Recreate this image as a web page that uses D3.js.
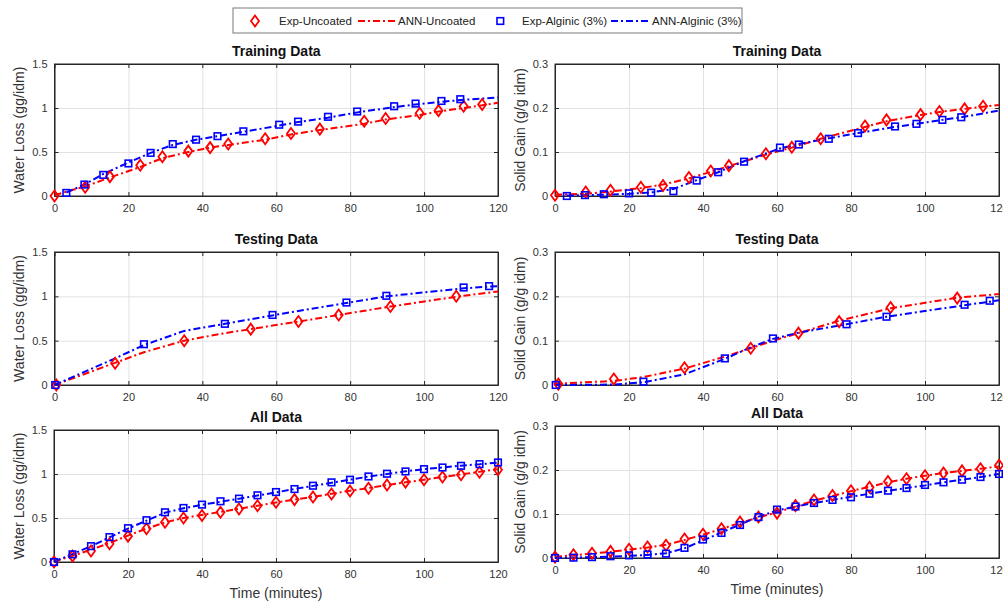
<!DOCTYPE html>
<html lang="en">
<head>
<meta charset="UTF-8">
<title>Water Loss / Solid Gain - Exp vs ANN</title>
<script src="https://d3js.org/d3.v7.min.js"></script>
<style>
    body { margin: 0; background: #fff; }
    svg { display: block; font-family: "Liberation Sans", Arial, sans-serif; }
    .tick text { fill: #333; font-size: 11px; }
    .grid line { stroke: #e2e2e2; }
    .grid path { display: none; }
</style>
</head>
<body>
<svg width="1003" height="603"></svg>
<script>
// ---- tick labels ----
const xTicks = [0, 20, 40, 60, 80, 100, 120];
const wlTicks = [0, 0.5, 1, 1.5];
const sgTicks = [0, 0.1, 0.2, 0.3];

// ---- Training data: water loss ----
const trUncTime = [0, 8.3, 15, 23.2, 29.2, 36.2, 42.1, 47, 57, 64, 71.8, 83.8, 89.6, 98.8, 103.9, 110.7, 115.7];
const trUncWL = [0, 0.10, 0.22, 0.35, 0.445, 0.51, 0.55, 0.59, 0.65, 0.71, 0.76, 0.85, 0.88, 0.94, 0.97, 1.02, 1.04];
const trUncAnnTime = [0, 8.3, 15, 23.2, 29.2, 36.2, 42.1, 47, 57, 64, 71.8, 83.8, 89.6, 98.8, 103.9, 110.7, 115.7, 120];
const trUncAnnWL = [0.01, 0.11, 0.21, 0.33, 0.43, 0.50, 0.55, 0.58, 0.64, 0.70, 0.75, 0.82, 0.87, 0.92, 0.96, 1.0, 1.03, 1.06];
const trAlgTime = [3.2, 8.1, 13.2, 20, 26, 32, 38.3, 44.1, 51.1, 60.8, 65.9, 74, 81.9, 91.9, 97.7, 104.7, 109.8];
const trAlgWL = [0.035, 0.13, 0.24, 0.37, 0.49, 0.59, 0.64, 0.68, 0.735, 0.81, 0.845, 0.90, 0.96, 1.02, 1.05, 1.08, 1.10];
const trAlgAnnTime = [3.2, 8.1, 13.2, 20, 26, 32, 38.3, 44.1, 51.1, 60.8, 65.9, 74, 81.9, 91.9, 97.7, 104.7, 109.8, 120];
const trAlgAnnWL = [0.04, 0.13, 0.25, 0.38, 0.49, 0.58, 0.64, 0.68, 0.73, 0.80, 0.84, 0.89, 0.95, 1.01, 1.04, 1.07, 1.09, 1.12];

// ---- Training data: solid gain ----
const trUncSG = [0.0015, 0.009, 0.013, 0.02, 0.024, 0.042, 0.057, 0.069, 0.096, 0.111, 0.130, 0.159, 0.173, 0.185, 0.192, 0.198, 0.204];
const trUncAnnSG = [0.003, 0.005, 0.01, 0.018, 0.026, 0.04, 0.055, 0.068, 0.094, 0.11, 0.13, 0.157, 0.17, 0.184, 0.191, 0.198, 0.203, 0.207];
const trAlgSG = [0, 0.002, 0.004, 0.006, 0.0075, 0.011, 0.035, 0.054, 0.078, 0.110, 0.117, 0.130, 0.143, 0.158, 0.164, 0.173, 0.179];
const trAlgAnnSG = [0.001, 0.002, 0.003, 0.005, 0.008, 0.016, 0.036, 0.054, 0.079, 0.108, 0.118, 0.131, 0.143, 0.157, 0.164, 0.173, 0.179, 0.194];

// ---- Testing data: water loss ----
const teUncTime = [0.5, 16.4, 35.1, 53.1, 66, 76.9, 90.9, 108.7];
const teUncWL = [0, 0.245, 0.50, 0.63, 0.716, 0.79, 0.886, 1.0];
const teUncAnnTime = [0, 16.4, 24.2, 35.1, 46.1, 53.1, 59, 66, 76.9, 90.9, 108.7, 120];
const teUncAnnWL = [0, 0.25, 0.37, 0.50, 0.585, 0.63, 0.67, 0.715, 0.79, 0.885, 0.995, 1.055];
const teAlgTime = [0.2, 24.2, 46.1, 59, 79, 89.8, 110.7, 117.6];
const teAlgWL = [0, 0.46, 0.69, 0.79, 0.93, 1.006, 1.10, 1.115];
const teAlgAnnTime = [0, 16.4, 24.2, 35.1, 46.1, 59, 66, 79, 89.8, 110.7, 117.6, 120];
const teAlgAnnWL = [0, 0.30, 0.45, 0.61, 0.69, 0.785, 0.835, 0.925, 1.0, 1.09, 1.11, 1.115];

// ---- Testing data: solid gain ----
const teUncTimeSG = [0.9, 15.9, 35, 52.9, 65.8, 76.8, 90.7, 108.7];
const teUncSG = [0.002, 0.0135, 0.039, 0.083, 0.117, 0.143, 0.175, 0.196];
const teUncAnnTimeSG = [0, 15.9, 23.9, 35, 45.9, 52.9, 58.9, 65.8, 76.8, 90.7, 108.7, 120];
const teUncAnnSG = [0.003, 0.009, 0.018, 0.037, 0.064, 0.083, 0.100, 0.117, 0.145, 0.173, 0.197, 0.205];
const teAlgTimeSG = [0.2, 23.9, 45.9, 58.9, 78.8, 89.6, 110.7, 117.5];
const teAlgSG = [0, 0.0075, 0.060, 0.105, 0.137, 0.154, 0.181, 0.190];
const teAlgAnnTimeSG = [0, 15.9, 23.9, 35, 45.9, 52.9, 58.9, 65.8, 78.8, 89.6, 110.7, 117.5, 120];
const teAlgAnnSG = [0, 0.001, 0.006, 0.024, 0.059, 0.085, 0.104, 0.118, 0.137, 0.154, 0.180, 0.188, 0.191];

// ---- All data ----
const allTime = [0, 5, 10, 15, 20, 25, 30, 35, 40, 45, 50, 55, 60, 65, 70, 75, 80, 85, 90, 95, 100, 105, 110, 115, 120];
const allUncWL = [0, 0.068, 0.124, 0.207, 0.294, 0.377, 0.452, 0.50, 0.528, 0.565, 0.603, 0.64, 0.678, 0.709, 0.739, 0.773, 0.807, 0.837, 0.874, 0.908, 0.935, 0.965, 0.991, 1.02, 1.048];
const allUncAnnWL = [0.005, 0.07, 0.14, 0.215, 0.30, 0.38, 0.45, 0.50, 0.535, 0.57, 0.605, 0.64, 0.675, 0.71, 0.74, 0.775, 0.81, 0.84, 0.875, 0.905, 0.935, 0.965, 0.995, 1.025, 1.055];
const allAlgWL = [0, 0.087, 0.18, 0.283, 0.384, 0.475, 0.565, 0.614, 0.652, 0.69, 0.72, 0.758, 0.795, 0.829, 0.867, 0.905, 0.935, 0.972, 1.003, 1.029, 1.055, 1.074, 1.093, 1.112, 1.131];
const allAlgAnnWL = [0.005, 0.09, 0.18, 0.28, 0.38, 0.47, 0.56, 0.61, 0.65, 0.685, 0.72, 0.755, 0.79, 0.83, 0.865, 0.9, 0.935, 0.97, 1.0, 1.03, 1.055, 1.075, 1.095, 1.11, 1.13];
const allUncSG = [0.002, 0.0075, 0.011, 0.015, 0.020, 0.025, 0.029, 0.043, 0.054, 0.0665, 0.082, 0.093, 0.102, 0.119, 0.132, 0.142, 0.153, 0.161, 0.174, 0.180, 0.187, 0.193, 0.198, 0.203, 0.211];
const allUncAnnSG = [0.003, 0.006, 0.01, 0.014, 0.019, 0.024, 0.03, 0.041, 0.053, 0.066, 0.08, 0.092, 0.104, 0.117, 0.13, 0.141, 0.152, 0.162, 0.172, 0.18, 0.187, 0.193, 0.198, 0.203, 0.208];
const allAlgSG = [0, 0.0008, 0.002, 0.004, 0.006, 0.008, 0.010, 0.023, 0.042, 0.057, 0.075, 0.093, 0.110, 0.117, 0.125, 0.132, 0.138, 0.146, 0.153, 0.159, 0.166, 0.172, 0.178, 0.184, 0.191];
const allAlgAnnSG = [0, 0.001, 0.002, 0.003, 0.005, 0.007, 0.011, 0.022, 0.04, 0.058, 0.076, 0.094, 0.108, 0.117, 0.125, 0.132, 0.139, 0.146, 0.153, 0.159, 0.165, 0.172, 0.178, 0.184, 0.191];

const red = "#ff0000", blue = "#0000ff";
const dash = "7,3,2,3";
const wlLabel = "Water Loss (gg/idm)";
const sgLabel = "Solid Gain (g/g idm)";

// panel layout (pixel boxes) + which arrays go where
const panels = [
    { title: "Training Data", box: [54.5, 498, 64, 196], yMax: 1.5, yTicks: wlTicks, yLabel: wlLabel, yLabelLen: 127,
      unc: [trUncTime, trUncWL], uncAnn: [trUncAnnTime, trUncAnnWL], alg: [trAlgTime, trAlgWL], algAnn: [trAlgAnnTime, trAlgAnnWL] },
    { title: "Training Data", box: [555, 999, 64, 196], yMax: 0.3, yTicks: sgTicks, yLabel: sgLabel,
      unc: [trUncTime, trUncSG], uncAnn: [trUncAnnTime, trUncAnnSG], alg: [trAlgTime, trAlgSG], algAnn: [trAlgAnnTime, trAlgAnnSG] },
    { title: "Testing Data", box: [54.5, 498, 252, 385], yMax: 1.5, yTicks: wlTicks, yLabel: wlLabel, yLabelLen: 127,
      unc: [teUncTime, teUncWL], uncAnn: [teUncAnnTime, teUncAnnWL], alg: [teAlgTime, teAlgWL], algAnn: [teAlgAnnTime, teAlgAnnWL] },
    { title: "Testing Data", box: [555, 999, 252, 385], yMax: 0.3, yTicks: sgTicks, yLabel: sgLabel,
      unc: [teUncTimeSG, teUncSG], uncAnn: [teUncAnnTimeSG, teUncAnnSG], alg: [teAlgTimeSG, teAlgSG], algAnn: [teAlgAnnTimeSG, teAlgAnnSG] },
    { title: "All Data", box: [54, 498, 430, 562], yMax: 1.5, yTicks: wlTicks, yLabel: wlLabel, yLabelLen: 127, xLabel: true,
      unc: [allTime, allUncWL], uncAnn: [allTime, allUncAnnWL], alg: [allTime, allAlgWL], algAnn: [allTime, allAlgAnnWL] },
    { title: "All Data", box: [555, 999, 426, 558], yMax: 0.3, yTicks: sgTicks, yLabel: sgLabel, xLabel: true,
      unc: [allTime, allUncSG], uncAnn: [allTime, allUncAnnSG], alg: [allTime, allAlgSG], algAnn: [allTime, allAlgAnnSG] }
];

const svg = d3.select("svg");
const diamond = "M0,-5.5L4,0L0,5.5L-4,0Z";

function zip(pair) {
    return pair[0].map((t, i) => [t, pair[1][i]]);
}

panels.forEach(p => {
    const [l, r, t, b] = p.box;
    const x = d3.scaleLinear().domain([0, 120]).range([l, r]);
    const y = d3.scaleLinear().domain([0, p.yMax]).range([b, t]);
    const g = svg.append("g");

    // grid
    g.append("g").attr("class", "grid").attr("transform", `translate(0,${b})`)
        .call(d3.axisBottom(x).tickValues(xTicks).tickSize(-(b - t)).tickFormat(""));
    g.append("g").attr("class", "grid").attr("transform", `translate(${l},0)`)
        .call(d3.axisLeft(y).tickValues(p.yTicks).tickSize(-(r - l)).tickFormat(""));

    // axes with inward ticks
    g.append("g").attr("transform", `translate(0,${b})`)
        .call(d3.axisBottom(x).tickValues(xTicks).tickSizeInner(-4).tickSizeOuter(0).tickPadding(8).tickFormat(d => d));
    g.append("g").attr("transform", `translate(${l},0)`)
        .call(d3.axisLeft(y).tickValues(p.yTicks).tickSizeInner(-4).tickSizeOuter(0).tickPadding(7).tickFormat(d => d));
    g.append("g").attr("transform", `translate(0,${t})`)
        .call(d3.axisTop(x).tickValues(xTicks).tickSizeInner(-4).tickSizeOuter(0).tickFormat(""));
    g.append("g").attr("transform", `translate(${r},0)`)
        .call(d3.axisRight(y).tickValues(p.yTicks).tickSizeInner(-4).tickSizeOuter(0).tickFormat(""));
    g.selectAll(".domain").attr("stroke", "#262626");
    g.selectAll(".tick line").filter(function () { return !this.closest(".grid"); }).attr("stroke", "#262626");
    g.selectAll("g").attr("font-family", null).attr("font-size", null);

    g.append("rect").attr("x", l).attr("y", t).attr("width", r - l).attr("height", b - t)
        .attr("fill", "none").attr("stroke", "#262626").attr("stroke-width", 1);

    // title + labels
    g.append("text").attr("x", (l + r) / 2).attr("y", t - 8)
        .attr("text-anchor", "middle").attr("font-size", 14).attr("font-weight", "bold")
        .attr("fill", "#111").text(p.title);
    const yl = g.append("text").attr("transform", `translate(${l - 35},${(t + b) / 2}) rotate(-90)`)
        .attr("text-anchor", "middle").attr("dy", "0.35em").attr("font-size", 14)
        .attr("fill", "#333").text(p.yLabel);
    if (p.yLabelLen) yl.attr("textLength", p.yLabelLen).attr("lengthAdjust", "spacing");
    if (p.xLabel) {
        g.append("text").attr("x", (l + r) / 2).attr("y", b + 36)
            .attr("text-anchor", "middle").attr("font-size", 14).attr("fill", "#333").text("Time (minutes)");
    }

    // ANN lines
    const line = d3.line().x(d => x(d[0])).y(d => y(d[1]));
    [[p.uncAnn, red], [p.algAnn, blue]].forEach(([s, c]) => {
        g.append("path").attr("d", line(zip(s))).attr("fill", "none")
            .attr("stroke", c).attr("stroke-width", 2).attr("stroke-dasharray", dash);
    });

    // experimental markers
    g.selectAll(null).data(zip(p.unc)).enter().append("path")
        .attr("d", diamond).attr("transform", d => `translate(${x(d[0])},${y(d[1])})`)
        .attr("fill", "none").attr("stroke", red).attr("stroke-width", 1.8);
    g.selectAll(null).data(zip(p.alg)).enter().append("rect")
        .attr("x", d => x(d[0]) - 3.3).attr("y", d => y(d[1]) - 3.3)
        .attr("width", 6.6).attr("height", 6.6)
        .attr("fill", "none").attr("stroke", blue).attr("stroke-width", 1.6);
});

// legend
const lg = svg.append("g");
lg.append("rect").attr("x", 233).attr("y", 8).attr("width", 509).attr("height", 25)
    .attr("fill", "#fff").attr("stroke", "#7a7a7a");
const ly = 21;
lg.append("path").attr("d", diamond).attr("transform", `translate(255,${ly})`)
    .attr("fill", "none").attr("stroke", red).attr("stroke-width", 1.8);
lg.append("rect").attr("x", 497).attr("y", ly - 3.3).attr("width", 6.6).attr("height", 6.6)
    .attr("fill", "none").attr("stroke", blue).attr("stroke-width", 1.6);
lg.append("line").attr("x1", 358).attr("x2", 396).attr("y1", ly).attr("y2", ly)
    .attr("stroke", red).attr("stroke-width", 2).attr("stroke-dasharray", dash);
lg.append("line").attr("x1", 611).attr("x2", 649).attr("y1", ly).attr("y2", ly)
    .attr("stroke", blue).attr("stroke-width", 2).attr("stroke-dasharray", dash);
[["Exp-Uncoated", 279], ["ANN-Uncoated", 398], ["Exp-Alginic (3%)", 522], ["ANN-Alginic (3%)", 652]].forEach(([t, xx]) => {
    lg.append("text").attr("x", xx).attr("y", ly).attr("dy", "0.35em")
        .attr("font-size", 11.5).attr("fill", "#222").text(t);
});
</script>
</body>
</html>
